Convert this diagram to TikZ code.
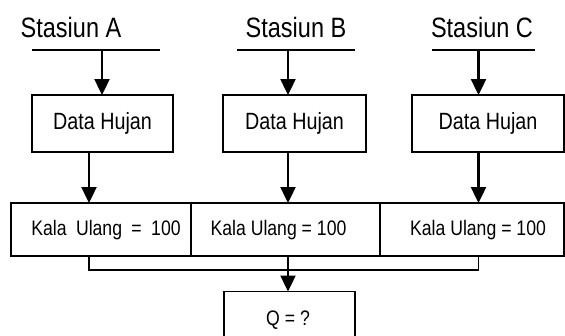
\documentclass[tikz,border=0pt]{standalone}
\usepackage{fontspec}
\setmainfont{Liberation Sans}[FakeStretch=0.84]
\usetikzlibrary{arrows.meta}
\begin{document}
\begin{tikzpicture}[x=1pt,y=-1pt,
  box/.style={draw,line width=1.6pt,inner sep=0pt,outer sep=0pt},
  rule/.style={line width=1.6pt},
  arr/.style={line width=2.4pt,-{Triangle[length=16pt,width=15pt]}},
  stxt/.style={inner sep=0pt,anchor=base,font=\fontsize{28}{30}\selectfont},
  dtxt/.style={inner sep=0pt,font=\fontsize{23.5}{26}\selectfont},
  ktxt/.style={inner sep=0pt,anchor=base,font=\fontsize{21}{24}\selectfont}]
\useasboundingbox (0,0) rectangle (565,335);
\clip (0,0) rectangle (565,335);
% station labels and rules
\node[stxt] (sA) at (71,37) {Stasiun A};
\node[stxt] (sB) at (296,37) {Stasiun B};
\node[stxt] (sC) at (482,37) {Stasiun C};
\coordinate (lA1) at (32,50);  \coordinate (lA2) at (160,50);
\coordinate (lB1) at (237,50); \coordinate (lB2) at (355,50);
\coordinate (lC1) at (432,50); \coordinate (lC2) at (535,50);
\draw[rule] (lA1) -- (lA2);
\draw[rule] (lB1) -- (lB2);
\draw[rule] (lC1) -- (lC2);
% x positions of the arrows
\coordinate (xA1) at (102,0);
\coordinate (xA2) at (89,0);
\coordinate (xB) at (288,0);
\coordinate (xC) at (478.5,0);
% Data Hujan boxes
\node[box,minimum width=141pt,minimum height=57pt] (dA) at (102.5,123.5) {};
\node[box,minimum width=143pt,minimum height=57pt] (dB) at (294.5,123.5) {};
\node[box,minimum width=152pt,minimum height=57pt] (dC) at (488,123.5) {};
\node[dtxt] (tdA) at (dA) {Data Hujan};
\node[dtxt] (tdB) at (dB) {Data Hujan};
\node[dtxt] (tdC) at (dC) {Data Hujan};
% Kala Ulang boxes
\node[box,minimum width=180pt,minimum height=53pt] (kA) at (101,229.5) {};
\node[box,minimum width=189pt,minimum height=53pt] (kB) at (285.5,229.5) {};
\node[box,minimum width=184pt,minimum height=53pt] (kC) at (472,229.5) {};
\node[ktxt] (tkA) at (106,235.5) {Kala\hspace{4.5pt} Ulang\hspace{4.5pt} =\hspace{4.5pt} 100};
\node[ktxt] (tkB) at (278.5,235.5) {Kala Ulang = 100};
\node[ktxt] (tkC) at (478,235.5) {Kala Ulang = 100};
% Q box
\node[box,minimum width=131pt,minimum height=60pt,anchor=north] (q) at (289.5,291.5) {};
\node[ktxt] (tq) at (288,325) {Q = ?};
% arrows
\draw[arr] (lA1 -| xA1) -- (dA.north -| xA1);
\draw[arr] (lB1 -| xB) -- (dB.north -| xB);
\draw[arr] (lC1 -| xC) -- (dC.north -| xC);
\draw[arr] (dA.south -| xA2) -- (kA.north -| xA2);
\draw[arr] (dB.south -| xB) -- (kB.north -| xB);
\draw[arr] (dC.south -| xC) -- (kC.north -| xC);
\coordinate (jn) at (288,270);
\draw[rule] (kA.south -| xA2) |- (jn) -| (kC.south -| xC);
\draw[arr] (kB.south -| xB) -- (q.north -| xB);
\end{tikzpicture}
\end{document}
